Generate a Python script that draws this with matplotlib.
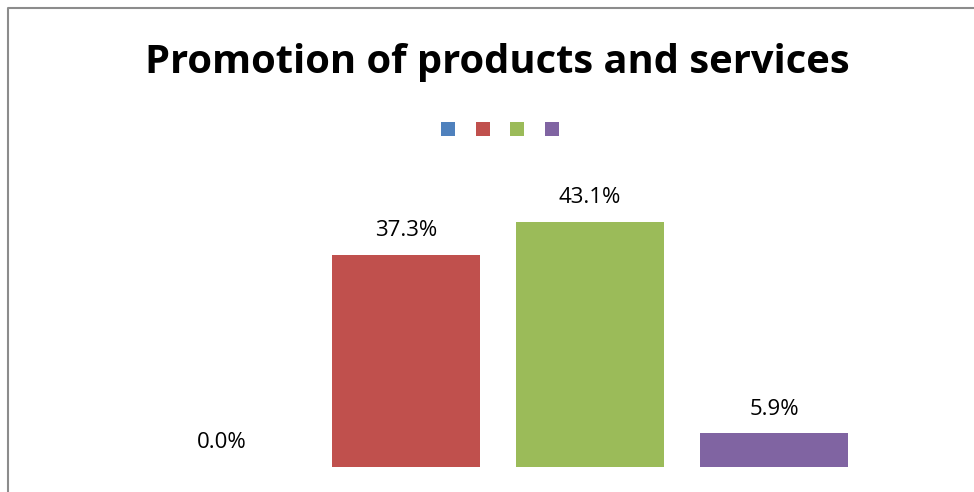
import matplotlib
matplotlib.use("Agg")
import matplotlib.pyplot as plt
from matplotlib.patches import Rectangle
from matplotlib.lines import Line2D

categories = ["A", "B", "C", "D"]
values = [0.0, 37.3, 43.1, 5.9]
colors = ["#4F81BD", "#C0504D", "#9BBB59", "#8064A2"]
title = "Promotion of products and services"

W, H = 974, 492
fig = plt.figure(figsize=(W / 100, H / 100), dpi=100)
plt.rcParams["font.family"] = ["Open Sans", "DejaVu Sans"]

# plot area in pixels
left, right = 130, 866
bottom_px, top_px = 467, 183
ax = fig.add_axes([left / W, 1 - bottom_px / H, (right - left) / W, (bottom_px - top_px) / H])
x = list(range(len(categories)))
ax.bar(x, values, width=0.805, color=colors)
ax.set_xlim(-0.5, len(categories) - 0.5)
ax.set_ylim(0, 50)
ax.axis("off")
for xi, v in zip(x, values):
    ax.annotate(f"{v:.1f}%", (xi, v), xytext=(0, 13.5), textcoords="offset points",
                ha="center", va="baseline", fontsize=16, color="#000000")

fig.text(497 / W, 1 - 73 / H, title, ha="center", va="baseline",
         fontsize=28.7, fontweight="bold", color="#000000")

# legend keys without labels
for i, c in enumerate(colors):
    cx = 448 + 34.5 * i
    sz = 14
    fig.add_artist(Rectangle(((cx - sz / 2) / W, 1 - (129 + sz / 2) / H), sz / W, sz / H,
                             transform=fig.transFigure, color=c, lw=0))

# chart frame
fig.add_artist(Line2D([7.5 / W, 7.5 / W, 1.01], [-0.01, 1 - 7.5 / H, 1 - 7.5 / H],
                      transform=fig.transFigure, color="#8c8c8c", lw=1.5))

fig.savefig("out.png", dpi=100)
